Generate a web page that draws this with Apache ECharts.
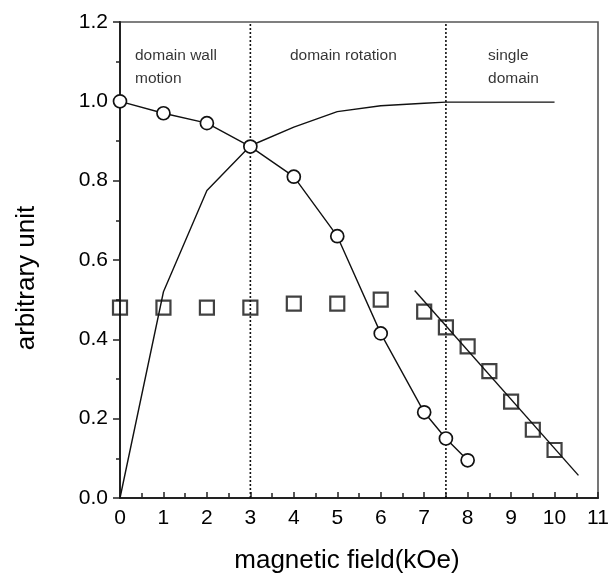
<!DOCTYPE html>
<html>
<head>
<meta charset="utf-8">
<script src="https://cdn.jsdelivr.net/npm/echarts@6/dist/echarts.min.js"></script>
<style>
html,body{margin:0;padding:0;background:#fff;}
#chart{width:616px;height:579px;}
</style>
</head>
<body>
<div id="chart"></div>
<script>
// ---- data ----
const circleX = [0, 1, 2, 3, 4, 5, 6, 7, 7.5, 8];
const circleY = [1.0, 0.97, 0.945, 0.886, 0.81, 0.66, 0.415, 0.216, 0.15, 0.095];

const squareX = [0, 1, 2, 3, 4, 5, 6, 7, 7.5, 8, 8.5, 9, 9.5, 10];
const squareY = [0.48, 0.48, 0.48, 0.48, 0.49, 0.49, 0.50, 0.47, 0.43, 0.382, 0.32, 0.243, 0.172, 0.121];

const fitX = [6.78, 10.55];
const fitY = [0.523, 0.057];

const curveX = [0, 1, 2, 3, 4, 5, 6, 7, 7.5, 8, 9, 10];
const curveY = [0, 0.52, 0.775, 0.888, 0.935, 0.974, 0.989, 0.995, 0.998, 0.998, 0.998, 0.998];

const dividerX = [3, 7.5];

const regionText = ["domain wall\nmotion", "domain rotation", "single\ndomain"];
const regionX = [0.345, 3.91, 8.47];
const regionY = [1.087, 1.115, 1.085];

const xTicks = [0, 1, 2, 3, 4, 5, 6, 7, 8, 9, 10, 11];
const yTicks = [0.0, 0.2, 0.4, 0.6, 0.8, 1.0, 1.2];

const xTitle = "magnetic field(kOe)";
const yTitle = "arbitrary unit";

// ---- build chart ----
const pair = (xs, ys) => xs.map((x, i) => [x, ys[i]]);
const FONT = "Liberation Sans, Arial, sans-serif";
const INK = "#000";

const dividerSeries = dividerX.map(x => ({
  type: 'line',
  data: [[x, yTicks[0]], [x, yTicks[yTicks.length - 1]]],
  symbol: 'none',
  lineStyle: { color: '#111', width: 1.6, type: [2, 2] },
  silent: true,
  z: 1
}));

const chart = echarts.init(document.getElementById('chart'), null, { renderer: 'canvas' });
chart.setOption({
  animation: false,
  backgroundColor: '#fff',
  grid: {
    left: 120, right: 18, top: 22, bottom: 79,
    show: true, borderColor: '#555', borderWidth: 1.6, backgroundColor: 'transparent'
  },
  xAxis: {
    type: 'value',
    min: xTicks[0], max: xTicks[xTicks.length - 1], interval: 1,
    name: xTitle, nameLocation: 'middle', nameGap: 50,
    nameTextStyle: { fontFamily: FONT, fontSize: 26, color: INK, padding: [0, 24, 0, 0] },
    axisLine: { show: true, onZero: false, lineStyle: { color: '#222', width: 2 } },
    axisTick: { show: true, inside: true, length: 6, lineStyle: { color: '#222', width: 1.5 } },
    minorTick: { show: true, splitNumber: 2, length: 5, lineStyle: { color: '#222', width: 1.5 } },
    axisLabel: { fontFamily: FONT, fontSize: 21, color: INK, margin: 10 },
    splitLine: { show: false }
  },
  yAxis: {
    type: 'value',
    min: yTicks[0], max: yTicks[yTicks.length - 1], interval: 0.2,
    name: yTitle, nameLocation: 'middle', nameGap: 80,
    nameTextStyle: { fontFamily: FONT, fontSize: 26, color: INK, padding: [0, 36, 0, 0] },
    axisLine: { show: true, onZero: false, lineStyle: { color: '#222', width: 2 } },
    axisTick: { show: true, inside: false, length: 7, lineStyle: { color: '#222', width: 1.5 } },
    minorTick: { show: true, splitNumber: 2, length: 4, lineStyle: { color: '#222', width: 1.5 } },
    axisLabel: { fontFamily: FONT, fontSize: 21, color: INK, margin: 12,
      formatter: v => v.toFixed(1) },
    splitLine: { show: false }
  },
  series: [
    ...dividerSeries,
    {
      type: 'line', name: 'curve',
      data: pair(curveX, curveY),
      symbol: 'none',
      lineStyle: { color: '#111', width: 1.4 },
      z: 2
    },
    {
      type: 'line', name: 'fit',
      data: pair(fitX, fitY),
      symbol: 'none',
      lineStyle: { color: '#111', width: 1.4 },
      z: 2
    },
    {
      type: 'line', name: 'circles',
      data: pair(circleX, circleY),
      symbol: 'circle', symbolSize: 13, showAllSymbol: true,
      lineStyle: { color: '#111', width: 1.4 },
      itemStyle: { color: '#fff', borderColor: '#111', borderWidth: 1.7 },
      z: 3
    },
    {
      type: 'scatter', name: 'squares',
      data: pair(squareX, squareY),
      symbol: 'rect', symbolSize: 14,
      itemStyle: { color: 'rgba(255,255,255,0)', borderColor: '#111', borderWidth: 2.2 },
      z: 4
    },
    {
      type: 'scatter', name: 'regions',
      data: regionX.map((x, i) => ({ value: [x, regionY[i]], name: regionText[i] })),
      symbolSize: 0,
      silent: true,
      label: {
        show: true, position: 'right', distance: 0,
        formatter: p => p.name,
        fontFamily: FONT, fontSize: 15.5, lineHeight: 23, color: INK, align: 'left'
      },
      z: 5
    }
  ]
});
</script>
</body>
</html>
